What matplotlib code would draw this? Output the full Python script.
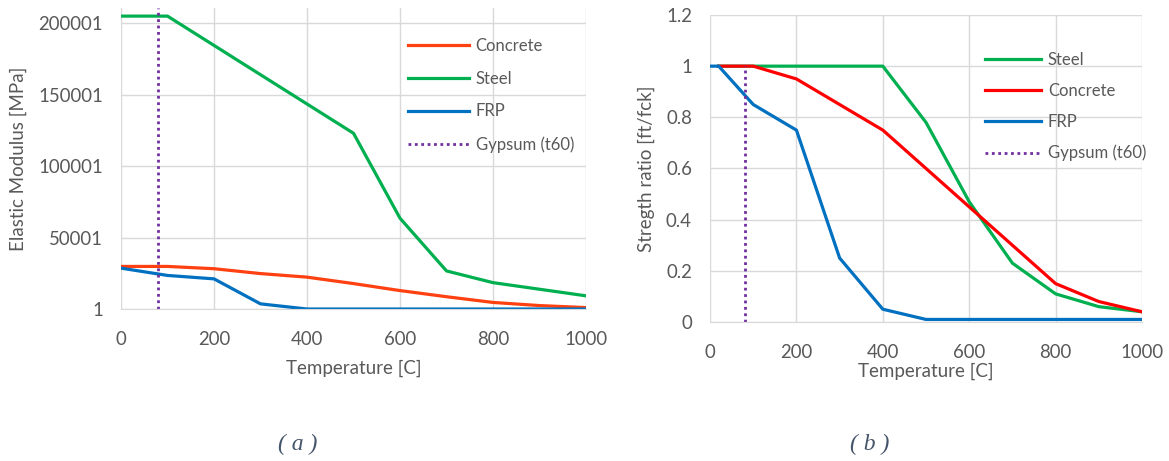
import matplotlib.pyplot as plt

plt.rcParams['font.family'] = ['Lato', 'DejaVu Sans']

# ---------------------------
# Data
# ---------------------------
temp = [0, 100, 200, 300, 400, 500, 600, 700, 800, 900, 1000]
e_concrete = [29800, 29800, 28200, 24800, 22300, 17800, 12900, 8600, 4600, 2400, 1000]
e_steel = [205000, 205000, 184500, 164000, 143500, 123000, 63550, 26650, 18450, 13840, 9225]
e_frp = [28600, 23500, 21100, 3600, 1, 1, 1, 1, 1, 1, 1]

temp_s = [20, 100, 200, 300, 400, 500, 600, 700, 800, 900, 1000]
s_steel = [1, 1, 1, 1, 1, 0.78, 0.47, 0.23, 0.11, 0.06, 0.04]
s_concrete = [1, 1, 0.95, 0.85, 0.75, 0.60, 0.45, 0.30, 0.15, 0.08, 0.04]
temp_f = [0, 20, 100, 200, 300, 400, 500, 600, 700, 800, 900, 1000]
s_frp = [1, 1, 0.85, 0.75, 0.25, 0.05, 0.01, 0.01, 0.01, 0.01, 0.01, 0.01]

gypsum_t60 = 80

e_ticks = [1, 50001, 100001, 150001, 200001]
x_ticks = [0, 200, 400, 600, 800, 1000]
s_ticks = [0, 0.2, 0.4, 0.6, 0.8, 1, 1.2]
s_ticklabels = ['0', '0.2', '0.4', '0.6', '0.8', '1', '1.2']

# ---------------------------
# Style
# ---------------------------
grey = '#595959'
grid = '#D9D9D9'
green = '#00B050'
blue = '#0070C0'
purple = '#7030A0'
lw = 2.3

fig = plt.figure(figsize=(11.69, 4.61), dpi=100)
ax1 = fig.add_axes([0.1035, 0.3297, 0.3978, 0.653])
ax2 = fig.add_axes([0.6074, 0.3015, 0.3695, 0.666])


def style_axes(ax):
    for s in ax.spines.values():
        s.set_visible(False)
    ax.spines['bottom'].set_visible(True)
    ax.spines['bottom'].set_color(grid)
    ax.grid(True, color=grid, linewidth=1)
    ax.set_axisbelow(True)
    ax.tick_params(length=0, colors=grey, labelsize=13.4, pad=13)
    ax.tick_params(axis='x', pad=16)
    ax.set_xlim(0, 1000)
    ax.set_xticks(x_ticks)


# ---------------------------
# (a) Elastic modulus
# ---------------------------
style_axes(ax1)
ax1.plot(temp, e_concrete, color='#FF4010', lw=lw, label='Concrete')
ax1.plot(temp, e_steel, color=green, lw=lw, label='Steel')
ax1.plot(temp, e_frp, color=blue, lw=lw, label='FRP')
ax1.axvline(gypsum_t60, color=purple, lw=2, dashes=(1, 1.3), label='Gypsum (t60)')
ax1.set_ylim(1, 210700)
ax1.set_yticks(e_ticks)
ax1.set_yticklabels([str(v) for v in e_ticks])
ax1.set_xlabel('Temperature [C]', color=grey, fontsize=13.5, labelpad=8)
ax1.set_ylabel('Elastic Modulus [MPa]', color=grey, fontsize=13.5, labelpad=8)
ax1.legend(loc='upper left', bbox_to_anchor=(0.585, 0.95), frameon=False,
           fontsize=12, labelcolor=grey, handlelength=3.65, handletextpad=0.4,
           labelspacing=1.0)

# ---------------------------
# (b) Strength ratio
# ---------------------------
style_axes(ax2)
ax2.plot(temp_s, s_steel, color=green, lw=lw, label='Steel')
ax2.plot(temp_s, s_concrete, color='#FF0000', lw=lw, label='Concrete')
ax2.plot(temp_f, s_frp, color=blue, lw=lw, label='FRP')
ax2.axvline(gypsum_t60, ymax=1 / 1.2, color=purple, lw=2, dashes=(1, 1.3), label='Gypsum (t60)')
ax2.set_ylim(0, 1.2)
ax2.set_yticks(s_ticks)
ax2.set_yticklabels(s_ticklabels)
ax2.set_xlabel('Temperature [C]', color=grey, fontsize=13.5, labelpad=1)
ax2.set_ylabel('Stregth ratio [ft/fck]', color=grey, fontsize=13.5, labelpad=8)
ax2.legend(loc='upper left', bbox_to_anchor=(0.601, 0.929), frameon=False,
           fontsize=12, labelcolor=grey, handlelength=3.4, handletextpad=0.4,
           labelspacing=0.9)

# ---------------------------
# Captions
# ---------------------------
fig.text(298 / 1169, 1 - 444 / 461, '( a )', family='Liberation Serif', style='italic',
         fontsize=17, color='#44546A', ha='center', va='center')
fig.text(870 / 1169, 1 - 444 / 461, '( b )', family='Liberation Serif', style='italic',
         fontsize=17, color='#44546A', ha='center', va='center')

plt.savefig('out.png', dpi=100)
